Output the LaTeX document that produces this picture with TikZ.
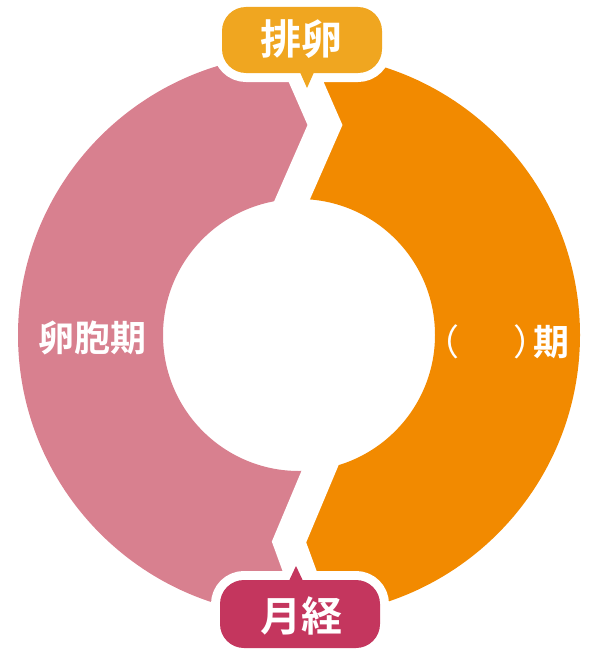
\documentclass[tikz,border=0pt]{standalone}
\usepackage{fontspec}
\newfontfamily\cjk{Noto Sans CJK JP}[BoldFont=* Bold]
\definecolor{ringpink}{RGB}{216,128,143}
\definecolor{ringorange}{RGB}{242,138,0}
\definecolor{bubbleyellow}{RGB}{240,166,32}
\definecolor{bubblered}{RGB}{196,54,94}
\tikzset{
  bubbleedge/.style={draw=white, line width=18pt, line join=round},
  bubblefill/.style={rounded corners=24pt},
  bubbletext/.style={text=white, font=\cjk\bfseries\fontsize{41}{41}\selectfont, inner sep=0pt},
  ringtext/.style={text=white, font=\cjk\bfseries\fontsize{36}{36}\selectfont, inner sep=0pt},
  gapline/.style={draw=white, line width=32pt, line join=miter}
}
\begin{document}
\begin{tikzpicture}[x=1pt,y=-1pt]
\useasboundingbox (0,0) rectangle (600,669);
\coordinate (c) at (299,335);
\coordinate (g1) at (248.4,-50);
\coordinate (g2) at (325,125);
\coordinate (g3) at (285.6,215);
\coordinate (g4) at (327.6,450);
\coordinate (g5) at (289,542);
\coordinate (g6) at (354,720);
% left (pink) half of the ring
\begin{scope}
\clip (-50,-50) -- (g1) -- (g2) -- (g3) -- (g4) -- (g5) -- (g6) -- (-50,720) -- cycle;
\fill[ringpink, even odd rule] (c) circle[radius=281] (c) circle[radius=136];
\end{scope}
% right (orange) half of the ring
\begin{scope}
\clip (650,-50) -- (g1) -- (g2) -- (g3) -- (g4) -- (g5) -- (g6) -- (650,720) -- cycle;
\fill[ringorange, even odd rule] (c) circle[radius=281] (c) circle[radius=136];
\end{scope}
% white zigzag gaps
\path[gapline] (g1) -- (g2) -- (g3) -- (g4) -- (g5) -- (g6);
% top bubble
\path[bubbleedge, bubblefill] (222,7) rectangle (382,73);
\path[bubbleedge] (299,70) -- (315,70) -- (307,88) -- cycle;
\fill[bubbleyellow, bubblefill] (222,7) rectangle (382,73);
\fill[bubbleyellow] (299,70) -- (315,70) -- (307,88) -- cycle;
% bottom bubble
\path[bubbleedge, bubblefill] (220,580) rectangle (380,648);
\path[bubbleedge] (288,583) -- (304,583) -- (296,566) -- cycle;
\fill[bubblered, bubblefill] (220,580) rectangle (380,648);
\fill[bubblered] (288,583) -- (304,583) -- (296,566) -- cycle;
% labels
\node[bubbletext] (ovulation) at (301,39) {排卵};
\node[bubbletext] (menses) at (301,616) {月経};
\node[ringtext] (follicular) at (92,338) {卵胞期};
\node[ringtext, anchor=west] (luteal) at (423,342) {{\mdseries （}\hspace{54pt}{\mdseries ）}\hspace{-16pt}期};
\end{tikzpicture}
\end{document}
